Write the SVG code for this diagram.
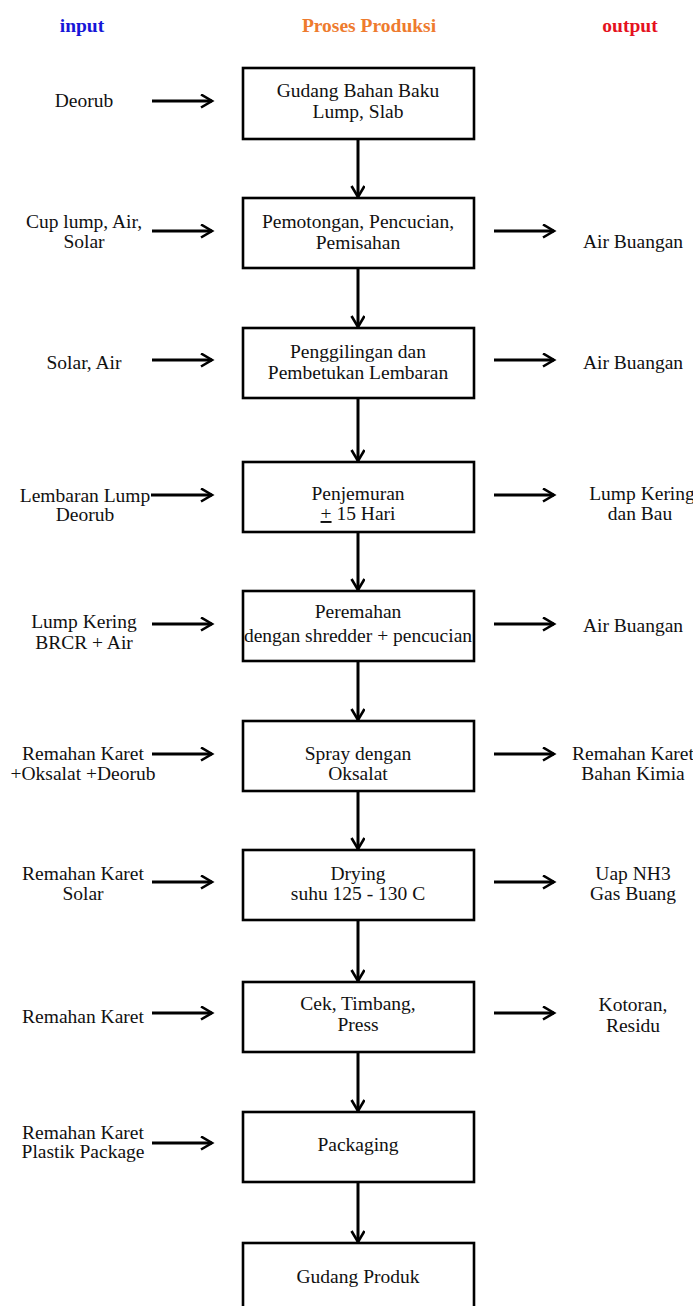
<svg xmlns="http://www.w3.org/2000/svg" width="693" height="1306" viewBox="0 0 693 1306">
<style>
text{font-family:"Liberation Serif","Times New Roman",serif;font-size:19.5px;fill:#111;text-anchor:middle}
.h{font-weight:bold}
.box{fill:#fff;stroke:#000;stroke-width:2.6}
.c{stroke:#000;stroke-width:3;fill:none;marker-end:url(#ah)}
</style>
<defs>
<marker id="ah" markerUnits="userSpaceOnUse" markerWidth="16" markerHeight="18" refX="12" refY="7" orient="auto" viewBox="0 0 16 18">
<path d="M1,0.5 L12,7 L1,13.5" fill="none" stroke="#000" stroke-width="2.6"/>
</marker>
</defs>
<rect width="693" height="1306" fill="#fff"/>
<g id="headers">
<text class="h" x="82" y="32" style="fill:#1616d8">input</text>
<text class="h" x="369" y="32" style="fill:#ee7b2e">Proses Produksi</text>
<text class="h" x="630" y="32" style="fill:#e5121e">output</text>
</g>
<g id="connectors">
<line class="c" x1="358" y1="139" x2="358" y2="197"/>
<line class="c" x1="358" y1="268" x2="358" y2="327"/>
<line class="c" x1="358" y1="398" x2="358" y2="461"/>
<line class="c" x1="358" y1="532" x2="358" y2="590"/>
<line class="c" x1="358" y1="661" x2="358" y2="720"/>
<line class="c" x1="358" y1="791" x2="358" y2="849"/>
<line class="c" x1="358" y1="920" x2="358" y2="981"/>
<line class="c" x1="358" y1="1052" x2="358" y2="1111"/>
<line class="c" x1="358" y1="1182" x2="358" y2="1242"/>
<line class="c" x1="152" y1="101" x2="212" y2="101"/>
<line class="c" x1="152" y1="231" x2="212" y2="231"/>
<line class="c" x1="152" y1="360" x2="212" y2="360"/>
<line class="c" x1="151" y1="495" x2="212" y2="495"/>
<line class="c" x1="152" y1="624" x2="212" y2="624"/>
<line class="c" x1="152" y1="754" x2="212" y2="754"/>
<line class="c" x1="152" y1="882" x2="212" y2="882"/>
<line class="c" x1="152" y1="1013" x2="212" y2="1013"/>
<line class="c" x1="152" y1="1143" x2="212" y2="1143"/>
<line class="c" x1="494" y1="231" x2="554" y2="231"/>
<line class="c" x1="494" y1="360" x2="554" y2="360"/>
<line class="c" x1="494" y1="495" x2="554" y2="495"/>
<line class="c" x1="494" y1="624" x2="554" y2="624"/>
<line class="c" x1="494" y1="754" x2="554" y2="754"/>
<line class="c" x1="494" y1="882" x2="554" y2="882"/>
<line class="c" x1="494" y1="1013" x2="554" y2="1013"/>
</g>
<g id="p1"><rect class="box" x="243" y="68" width="231" height="71"/><text x="358" y="97">Gudang Bahan Baku</text><text x="358" y="118">Lump, Slab</text></g>
<g id="p2"><rect class="box" x="243" y="198" width="231" height="70"/><text x="358" y="228">Pemotongan, Pencucian,</text><text x="358" y="249">Pemisahan</text></g>
<g id="p3"><rect class="box" x="243" y="328" width="231" height="70"/><text x="358" y="358">Penggilingan dan</text><text x="358" y="379">Pembetukan Lembaran</text></g>
<g id="p4"><rect class="box" x="243" y="462" width="231" height="70"/><text x="358" y="500">Penjemuran</text><text x="358" y="520"><tspan text-decoration="underline">+</tspan> 15 Hari</text></g>
<g id="p5"><rect class="box" x="243" y="591" width="231" height="70"/><text x="358" y="618">Peremahan</text><text x="358" y="642">dengan shredder + pencucian</text></g>
<g id="p6"><rect class="box" x="243" y="721" width="231" height="70"/><text x="358" y="760">Spray dengan</text><text x="358" y="780">Oksalat</text></g>
<g id="p7"><rect class="box" x="243" y="850" width="231" height="70"/><text x="358" y="880">Drying</text><text x="358" y="900">suhu 125 - 130 C</text></g>
<g id="p8"><rect class="box" x="243" y="982" width="231" height="70"/><text x="358" y="1010">Cek, Timbang,</text><text x="358" y="1031">Press</text></g>
<g id="p9"><rect class="box" x="243" y="1112" width="231" height="70"/><text x="358" y="1151">Packaging</text></g>
<g id="p10"><rect class="box" x="243" y="1243" width="231" height="80"/><text x="358" y="1283">Gudang Produk</text></g>
<g id="in1"><text x="84" y="107">Deorub</text></g>
<g id="in2"><text x="84" y="228">Cup lump, Air,</text><text x="84" y="248">Solar</text></g>
<g id="in3"><text x="84" y="369">Solar, Air</text></g>
<g id="in4"><text x="85" y="502">Lembaran Lump</text><text x="85" y="521">Deorub</text></g>
<g id="in5"><text x="84" y="628">Lump Kering</text><text x="84" y="649">BRCR + Air</text></g>
<g id="in6"><text x="83" y="760">Remahan Karet</text><text x="83" y="780">+Oksalat +Deorub</text></g>
<g id="in7"><text x="83" y="880">Remahan Karet</text><text x="83" y="900">Solar</text></g>
<g id="in8"><text x="83" y="1023">Remahan Karet</text></g>
<g id="in9"><text x="83" y="1139">Remahan Karet</text><text x="83" y="1158">Plastik Package</text></g>
<g id="out2"><text x="633" y="248">Air Buangan</text></g>
<g id="out3"><text x="633" y="369">Air Buangan</text></g>
<g id="out4"><text x="642" y="500">Lump Kering</text><text x="640" y="520">dan Bau</text></g>
<g id="out5"><text x="633" y="632">Air Buangan</text></g>
<g id="out6"><text x="633" y="760">Remahan Karet</text><text x="633" y="780">Bahan Kimia</text></g>
<g id="out7"><text x="633" y="880">Uap NH3</text><text x="633" y="900">Gas Buang</text></g>
<g id="out8"><text x="633" y="1011">Kotoran,</text><text x="633" y="1032">Residu</text></g>
</svg>
